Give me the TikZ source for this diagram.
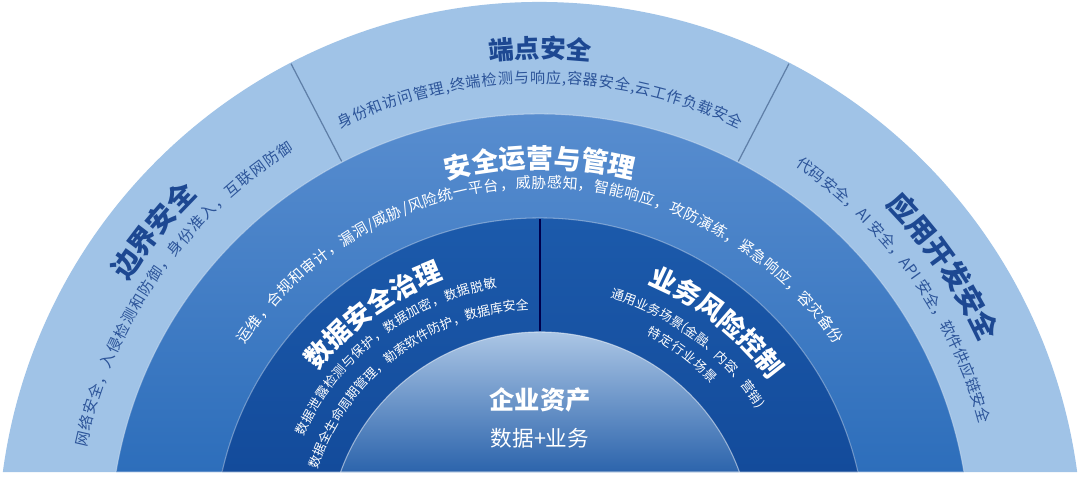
\documentclass[tikz,border=0pt]{standalone}
\usepackage{fontspec}
\setmainfont{Noto Sans CJK SC}
\usetikzlibrary{decorations.text}

\definecolor{ringlight}{HTML}{A0C3E7}
\definecolor{midtop}{HTML}{5C90D1}
\definecolor{midbot}{HTML}{2D6EBB}
\definecolor{darktop}{HTML}{1D5CAD}
\definecolor{darkbot}{HTML}{134B9B}
\definecolor{coretop}{HTML}{C4D9F0}
\definecolor{corebot}{HTML}{2C64AC}
\definecolor{navy}{HTML}{1D4892}
\definecolor{subnavy}{HTML}{2C5499}
\definecolor{sepgray}{HTML}{5F7FA8}

% disc segment above the base line, centre (540,-66)
\newcommand\ringseg[2]{%
  \path[#2] ({540+#1*cos(180-asin(72/#1))},6)
    arc[start angle={180-asin(72/#1)},end angle={asin(72/#1)},radius=#1] -- cycle;}
% text on an arc: radius, from, to, align, format, text
\newcommand\arctext[6]{%
  \path[decorate,decoration={text along path,text align={#4},text={|#5|#6}}]
    ({540+#1*cos(#2)},{-66+#1*sin(#2)}) arc[start angle=#2,end angle=#3,radius=#1];}

\newcommand\outttl{\bfseries\color{navy}\fontsize{14.5}{15}\selectfont}
\newcommand\sidettl{\bfseries\color{navy}\fontsize{16}{16}\selectfont}
\newcommand\outsub{\color{subnavy}\fontsize{8.6}{9}\selectfont}
\newcommand\midttl{\bfseries\color{white}\fontsize{15.3}{16}\selectfont}
\newcommand\midsub{\color{white}\fontsize{8.5}{9}\selectfont}
\newcommand\inttl{\bfseries\color{white}\fontsize{15}{15}\selectfont}
\newcommand\insub{\color{white}\fontsize{7.3}{8}\selectfont}

\begin{document}
\begin{tikzpicture}[x=0.02cm, y=0.02cm,
    outerring/.style={fill=ringlight},
    midring/.style={top color=midtop, bottom color=midbot, draw=white, draw opacity=.35, line width=.6pt},
    darkring/.style={top color=darktop, bottom color=darkbot, draw=white, draw opacity=.35, line width=.6pt},
    corering/.style={top color=coretop, bottom color=corebot, draw=white, draw opacity=.5, line width=.6pt},
    sepline/.style={draw=sepgray, line width=.7pt},
    coresep/.style={draw=black!70!blue, line width=.9pt},
    coretitle/.style={text=white, font=\bfseries\fontsize{14.4}{15}\selectfont},
    coresub/.style={text=white, font=\fontsize{12.3}{13}\selectfont}]
    \useasboundingbox[fill=white] (0,0) rectangle (1080,478);
    \coordinate (ctr) at (540,-66);

    \ringseg{542}{outerring}
    \ringseg{430}{midring}
    \ringseg{326}{darkring}
    \ringseg{212}{corering}

    \draw[sepline] ([shift={(117.4:431)}]ctr) -- ([shift={(117.4:541)}]ctr);
    \draw[sepline] ([shift={(62.6:431)}]ctr) -- ([shift={(62.6:541)}]ctr);
    \draw[coresep] (540,147) -- (540,259);

    % outer ring
    \arctext{486}{110}{70}{center}{\outttl}{端点安全}
    \arctext{461}{115.6}{64.4}{fit to path}{\outsub}{身份和访问管理,终端检测与响应,容器安全,云工作负载安全}
    \arctext{489}{161}{121}{center}{\sidettl}{边界安全}
    \arctext{464}{168}{122}{fit to path}{\outsub}{网络安全，入侵检测和防御，身份准入，互联网防御}
    \arctext{484}{55}{14}{center}{\sidettl}{应用开发安全}
    \arctext{456}{56}{15.3}{fit to path}{\outsub}{代码安全，AI 安全，API 安全，软件供应链安全}

    % middle ring
    \arctext{376}{110}{70}{center}{\midttl}{安全运营与管理}
    \arctext{356}{146}{34}{fit to path}{\midsub}{运维，合规和审计，漏洞/威胁/风险统一平台，威胁感知，智能响应，攻防演练，紧急响应，容灾备份}

    % inner ring
    \arctext{282}{150}{102}{center}{\inttl}{数据安全治理}
    \arctext{260}{155.5}{99.5}{fit to path}{\insub}{数据泄露检测与保护，数据加密，数据脱敏}
    \arctext{235}{161.5}{93}{fit to path}{\insub}{数据全生命周期管理，勒索软件防护，数据库安全}
    \arctext{282}{76}{27}{center}{\inttl}{业务风险控制}
    \arctext{256}{74}{32}{fit to path}{\insub}{通用业务场景(金融、内容、营销)}
    \arctext{235}{63}{43}{fit to path}{\insub}{特定行业场景}

    % core
    \node[coretitle] (asset) at (540,78) {企业资产};
    \node[coresub] (biz) at (540,40) {数据+业务};
\end{tikzpicture}
\end{document}
